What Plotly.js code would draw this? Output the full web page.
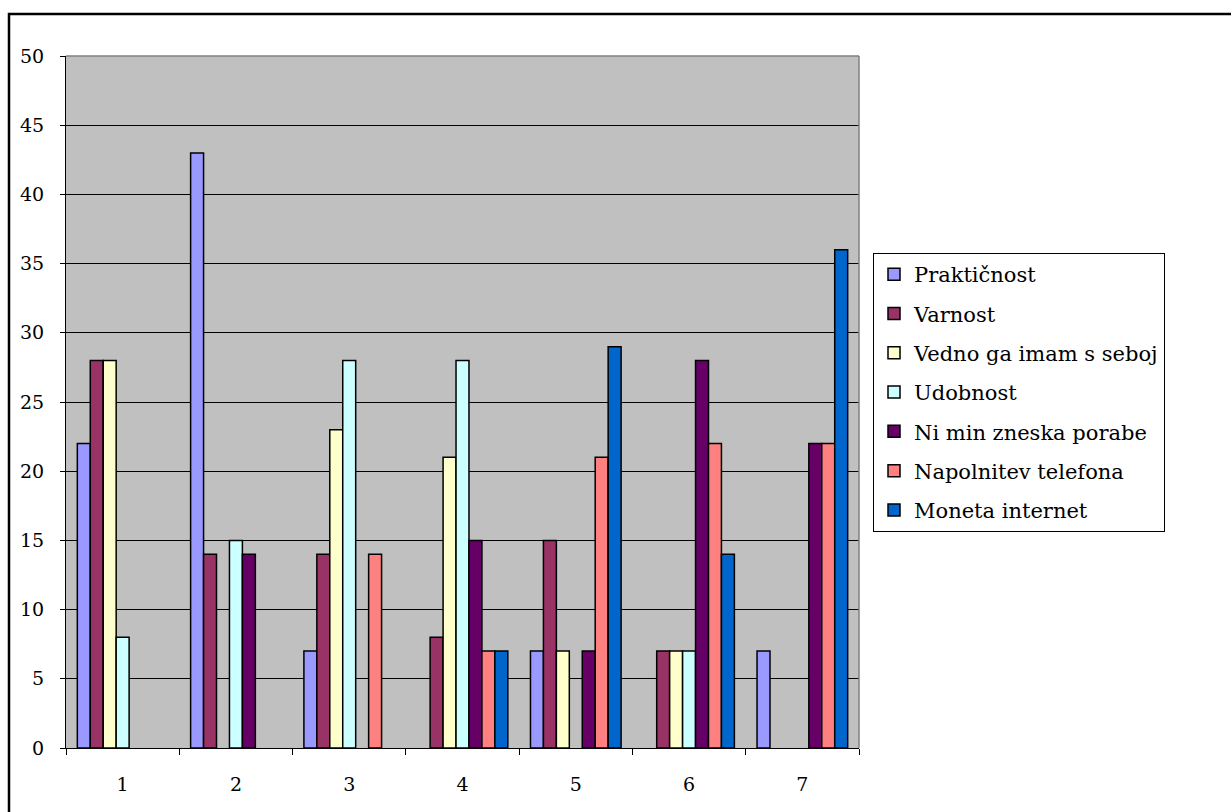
<!DOCTYPE html>
<html><head><meta charset="utf-8">
<script src="https://cdn.plot.ly/plotly-3.0.1.min.js"></script>
<style>html,body{margin:0;padding:0;background:#fff;}#chart{width:1231px;height:812px;}</style>
</head><body><div id="chart"></div>
<script>
var categories = ["1","2","3","4","5","6","7"];
var seriesNames = ["Praktičnost","Varnost","Vedno ga imam s seboj","Udobnost","Ni min zneska porabe","Napolnitev telefona","Moneta internet"];
var prakticnost = [22,43,7,0,7,0,7];
var varnost = [28,14,14,8,15,7,0];
var vedno = [28,0,23,21,7,7,0];
var udobnost = [8,15,28,28,0,7,0];
var niMin = [0,14,0,15,7,28,22];
var napolnitev = [0,0,14,7,21,22,22];
var moneta = [0,0,0,7,29,14,36];
var colors = ["#9999FF","#993366","#FFFFCC","#CCFFFF","#660066","#FF8080","#0066CC"];
var values = [prakticnost,varnost,vedno,udobnost,niMin,napolnitev,moneta];
var yTicks = [0,5,10,15,20,25,30,35,40,45,50];

var traces = values.map(function(v,i){
  return {type:"bar", x:categories, y:v.map(function(d){return d===0?null:d;}), name:seriesNames[i], legendgroup:"g"+i,
    marker:{color:colors[i], line:{color:"#000", width:1.5}}};
});

var L=66,R=859,T=56,B=748,W=1231,H=812;
function px(x){return (x-L)/(R-L);}
function py(y){return (B-y)/(B-T);}
var serif = "DejaVu Serif";

var layout = {
  width:W, height:H,
  margin:{l:L, r:W-R, t:T, b:H-B, pad:0},
  paper_bgcolor:"#fff", plot_bgcolor:"#C0C0C0",
  barmode:"group", bargap:0.2, bargroupgap:0,
  font:{family:serif, color:"#000", size:19},
  showlegend:true,
  legend:{x:px(873), y:py(253), xanchor:"left", yanchor:"top", bgcolor:"#fff",
    bordercolor:"#000", borderwidth:1, font:{family:serif, size:21, color:"#000"},
    tracegroupgap:9, traceorder:"grouped", itemwidth:30},
  xaxis:{type:"category", tickson:"boundaries", ticks:"outside", ticklen:6, tickcolor:"#000",
    showline:true, linecolor:"#000", linewidth:1, showgrid:false, zeroline:false,
    ticklabelstandoff:19, tickfont:{family:serif, size:19, color:"#000"}, fixedrange:true},
  yaxis:{range:[0,50], tickvals:yTicks, ticks:"outside", ticklen:5, tickcolor:"#000",
    showline:true, linecolor:"#000", linewidth:1, showgrid:true, gridcolor:"#000", gridwidth:1,
    zeroline:false, ticklabelstandoff:12, tickfont:{family:serif, size:19, color:"#000"}, fixedrange:true},
  shapes:[
    {type:"line", xref:"paper", yref:"paper", x0:0, x1:1, y0:1, y1:1, line:{color:"#808080", width:1.5}},
    {type:"line", xref:"paper", yref:"paper", x0:1, x1:1, y0:0, y1:1, line:{color:"#808080", width:1.5}},
    {type:"rect", xref:"paper", yref:"paper", x0:px(9), x1:px(1260), y0:py(14), y1:py(850),
      line:{color:"#000", width:2.5}, layer:"below"}
  ]
};
Plotly.newPlot("chart", traces, layout, {displayModeBar:false, staticPlot:true});
</script></body></html>
